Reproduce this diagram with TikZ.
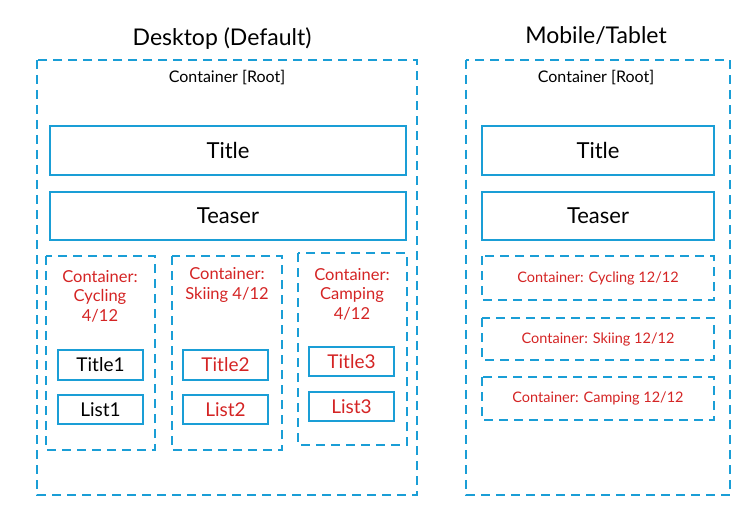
\documentclass[tikz,border=0pt]{standalone}
\usepackage{fontspec}
\setmainfont{Lato}
\definecolor{cb}{HTML}{1A9ED6}
\definecolor{cr}{HTML}{D42424}
\begin{document}
\begin{tikzpicture}[x=1pt,y=-1pt,
 dbox/.style={draw=cb,line width=2.8pt,dash pattern=on 9pt off 6pt},
 sbox/.style={draw=cb,line width=2.8pt},
 lbl/.style={inner sep=0pt,align=center},
 redl/.style={lbl,text=cr,font=\fontsize{16.5}{19.5}\selectfont}]
\useasboundingbox (0,0) rectangle (750,508);
\node[lbl,font=\fontsize{23}{26}\selectfont] (hd) at (222,39) {Desktop (Default)};
\node[lbl,font=\fontsize{23}{26}\selectfont] (hm) at (596,36) {Mobile/Tablet};
% desktop
\draw[dbox] (37,60) rectangle (417,495);
\node[lbl,font=\fontsize{16}{18}\selectfont] (rd) at (227,78) {Container [Root]};
\draw[sbox] (50,126) rectangle node[font=\fontsize{22}{24}\selectfont] (t) {Title} (406,175);
\draw[sbox] (50,192) rectangle node[font=\fontsize{22}{24}\selectfont] (te) {Teaser} (406,240);
\draw[dbox] (46,256) rectangle (155,450);
\draw[dbox] (172,256) rectangle (282,450);
\draw[dbox] (298,253) rectangle (407,445);
\node[redl] (c1) at (100,296) {Container:\\Cycling\\4/12};
\node[redl] (c2) at (227,285) {Container:\\Skiing 4/12};
\node[redl] (c3) at (352,294) {Container:\\Camping\\4/12};
\draw[sbox] (58,350) rectangle node[font=\fontsize{19}{22}\selectfont] (a1) {Title1} (143,380);
\draw[sbox] (58,395) rectangle node[font=\fontsize{19}{22}\selectfont] (b1) {List1} (143,424);
\draw[sbox] (183,350) rectangle node[font=\fontsize{19}{22}\selectfont,text=cr] (a2) {Title2} (268,380);
\draw[sbox] (183,395) rectangle node[font=\fontsize{19}{22}\selectfont,text=cr] (b2) {List2} (268,424);
\draw[sbox] (309,347) rectangle node[font=\fontsize{19}{22}\selectfont,text=cr] (a3) {Title3} (394,376);
\draw[sbox] (309,392) rectangle node[font=\fontsize{19}{22}\selectfont,text=cr] (b3) {List3} (394,421);
% mobile
\draw[dbox] (466,60) rectangle (730,495);
\node[lbl,font=\fontsize{16}{18}\selectfont] (rm) at (596,78) {Container [Root]};
\draw[sbox] (482,126) rectangle node[font=\fontsize{22}{24}\selectfont] (mt) {Title} (714,175);
\draw[sbox] (482,192) rectangle node[font=\fontsize{22}{24}\selectfont] (mte) {Teaser} (714,240);
\draw[dbox] (482,256) rectangle node[text=cr,font=\fontsize{14.5}{16}\selectfont] (m1) {Container: Cycling 12/12} (714,300);
\draw[dbox] (482,318) rectangle node[text=cr,font=\fontsize{14.5}{16}\selectfont] (m2) {Container: Skiing 12/12} (714,360);
\draw[dbox] (482,377) rectangle node[text=cr,font=\fontsize{14.5}{16}\selectfont] (m3) {Container: Camping 12/12} (714,420);
\end{tikzpicture}
\end{document}
